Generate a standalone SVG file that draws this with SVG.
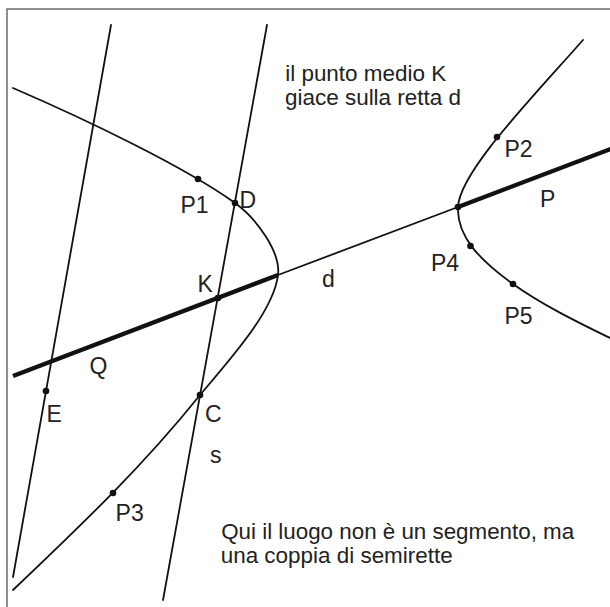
<svg xmlns="http://www.w3.org/2000/svg" width="610" height="607" viewBox="0 0 610 607">
  <style>
    .frame { fill: none; stroke: #555; stroke-width: 1.3; }
    .thin { fill: none; stroke: #111; stroke-width: 1.8; stroke-linecap: round; }
    .thick { fill: none; stroke: #111; stroke-width: 4.4; stroke-linecap: butt; }
    .dot { fill: #111; }
    text { font-family: "Liberation Sans", Arial, Helvetica, sans-serif; font-size: 23px; fill: #222; }
    .note { font-size: 22.4px; }
  </style>
  <rect width="610" height="607" fill="#fff"/>
  <rect class="frame" x="7" y="9" width="700" height="700"/>

  <g id="lines">
    <line id="line-r" class="thin" x1="111" y1="25" x2="13" y2="577"/>
    <line id="line-s" class="thin" x1="267" y1="25" x2="163" y2="600"/>
    <line id="d-thin" class="thin" x1="278" y1="275" x2="458" y2="207"/>
    <line id="d-Q" class="thick" x1="13" y1="376" x2="278" y2="275"/>
    <line id="d-P" class="thick" x1="458" y1="207" x2="612" y2="148.5"/>
  </g>

  <g id="hyperbola">
    <path id="left-branch" class="thin" d="M13,88 C87,120 185,167 235,203 C256,218 281,252 278,275 C273.8,310 234,355 200,395 C144,465 83,523.5 13,590"/>
    <path id="right-branch" class="thin" d="M583,40 C530.2,100 459.75,172 458,207 C456.5,237 481,261 513,284 C543,305.6 582,324.3 612,339"/>
  </g>

  <g id="points">
    <circle class="dot" cx="198" cy="179" r="3.3"/>
    <circle class="dot" cx="235" cy="203" r="3.3"/>
    <circle class="dot" cx="218" cy="298" r="3.3"/>
    <circle class="dot" cx="458" cy="207" r="3.3"/>
    <circle class="dot" cx="497" cy="137" r="3.3"/>
    <circle class="dot" cx="470.5" cy="246" r="3.3"/>
    <circle class="dot" cx="513" cy="284" r="3.3"/>
    <circle class="dot" cx="200" cy="395" r="3.3"/>
    <circle class="dot" cx="46" cy="391" r="3.3"/>
    <circle class="dot" cx="113" cy="493" r="3.3"/>
  </g>

  <g id="labels">
    <text x="180.5" y="213">P1</text>
    <text x="239.5" y="208">D</text>
    <text x="197.5" y="292">K</text>
    <text x="322" y="287">d</text>
    <text x="504.5" y="157">P2</text>
    <text x="540" y="207">P</text>
    <text x="431" y="270.5">P4</text>
    <text x="504.5" y="324">P5</text>
    <text x="89.6" y="374">Q</text>
    <text x="46.5" y="421.5">E</text>
    <text x="205" y="422">C</text>
    <text x="210" y="463">s</text>
    <text x="115.6" y="521">P3</text>
  </g>

  <g id="notes">
    <text class="note" x="285.2" y="81" textLength="161" lengthAdjust="spacingAndGlyphs">il punto medio K</text>
    <text class="note" x="285" y="105" textLength="176" lengthAdjust="spacingAndGlyphs">giace sulla retta d</text>
    <text class="note" x="221.2" y="539" textLength="353" lengthAdjust="spacingAndGlyphs">Qui il luogo non è un segmento, ma</text>
    <text class="note" x="220.7" y="563" textLength="232" lengthAdjust="spacingAndGlyphs">una coppia di semirette</text>
  </g>
</svg>
